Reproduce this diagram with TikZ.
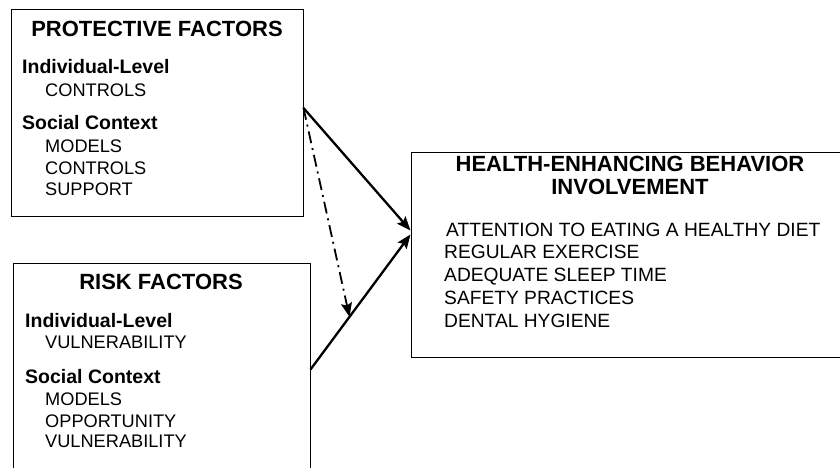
\documentclass[tikz,border=0pt]{standalone}
\usepackage{fontspec}
\setmainfont{Liberation Sans}
\usetikzlibrary{arrows.meta,calc}
\begin{document}
\begin{tikzpicture}[x=1pt,y=-1pt,
  panel/.style={draw=black, line width=1pt, rectangle, inner sep=0pt},
  hdr/.style={font=\fontsize{22}{26}\selectfont\bfseries, anchor=base, inner sep=0pt},
  sub/.style={font=\fontsize{19.5}{23}\selectfont\bfseries, anchor=base west, inner sep=0pt},
  item/.style={font=\fontsize{18.2}{22}\selectfont, anchor=base west, inner sep=0pt},
  hitem/.style={font=\fontsize{19.2}{23}\selectfont, anchor=base west, inner sep=0pt},
  link/.style={line width=2.3pt, -{Stealth[length=14pt,width=11pt,inset=2.5pt]}},
  hint/.style={line width=1.8pt, dash pattern=on 12pt off 5pt on 2pt off 5pt,
               -{Stealth[length=14pt,width=11pt,inset=2.5pt]}}]
\useasboundingbox (0,0) rectangle (840,468);
\clip (0,0) rectangle (840,468);

% boxes
\node[panel, minimum width=292pt, minimum height=206pt] (prot) at (157,113) {};
\node[panel, minimum width=297pt, minimum height=217pt] (risk) at (161.5,371.5) {};
\node[panel, minimum width=439pt, minimum height=205pt] (health) at (630.5,254.5) {};

% protective factors
\node[hdr] (pt) at (157,37) {PROTECTIVE FACTORS};
\node[sub] (pil) at (22,74) {Individual-Level};
\node[item] (pi1) at (45,97) {CONTROLS};
\node[sub] (psc) at (22,130) {Social Context};
\node[item] (ps1) at (45,152) {MODELS};
\node[item] (ps2) at (45,174) {CONTROLS};
\node[item] (ps3) at (45,195) {SUPPORT};

% risk factors
\node[hdr] (rt) at (161,289) {RISK FACTORS};
\node[sub] (ril) at (25,327) {Individual-Level};
\node[item] (ri1) at (45,348) {VULNERABILITY};
\node[sub] (rsc) at (25,383) {Social Context};
\node[item] (rs1) at (45,405) {MODELS};
\node[item] (rs2) at (45,427) {OPPORTUNITY};
\node[item] (rs3) at (45,447) {VULNERABILITY};

% health-enhancing behavior
\node[hdr] (ht1) at (630,171) {HEALTH-ENHANCING BEHAVIOR};
\node[hdr] (ht2) at (630,194) {INVOLVEMENT};
\node[hitem] (h1) at (446,236) {ATTENTION TO EATING A HEALTHY DIET};
\node[hitem] (h2) at (444,258) {REGULAR EXERCISE};
\node[hitem] (h3) at (444,281) {ADEQUATE SLEEP TIME};
\node[hitem] (h4) at (444,304) {SAFETY PRACTICES};
\node[hitem] (h5) at (444,327) {DENTAL HYGIENE};

% connectors
\coordinate (pout) at ([yshift=5pt]prot.east);
\coordinate (rout) at ([yshift=2pt]risk.east);
\coordinate (hin1) at ([yshift=24pt]health.west);
\coordinate (hin2) at ([yshift=20pt]health.west);
\coordinate (mid) at ($(rout)!0.39!(hin2)$);

\draw[link] (pout) -- (hin1);
\draw[link] (rout) -- (hin2);
\draw[hint] (pout) -- (mid);
\end{tikzpicture}
\end{document}
